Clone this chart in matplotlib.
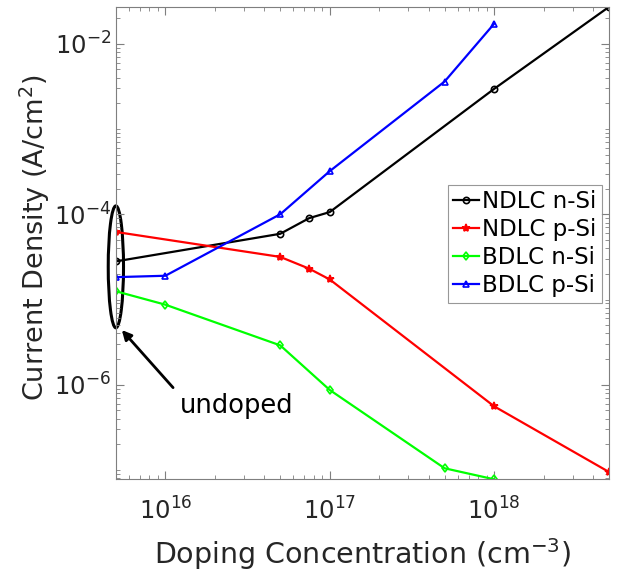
import matplotlib
matplotlib.use("Agg")
import matplotlib.pyplot as plt
from matplotlib.patches import Ellipse
from matplotlib.ticker import LogLocator, NullFormatter
import numpy as np

# doping concentration (cm^-3); the first point of each series is the undoped sample
ndlc_n_x = [5e15, 5e16, 7.5e16, 1e17, 1e18, 5e18]
ndlc_n_y = [2.8e-5, 5.9e-5, 9.0e-5, 1.06e-4, 2.95e-3, 2.7e-2]

ndlc_p_x = [5e15, 5e16, 7.5e16, 1e17, 1e18, 5e18]
ndlc_p_y = [6.2e-5, 3.16e-5, 2.3e-5, 1.72e-5, 5.6e-7, 9.5e-8]

bdlc_n_x = [5e15, 1e16, 5e16, 1e17, 5e17, 1e18]
bdlc_n_y = [1.25e-5, 8.7e-6, 2.9e-6, 8.7e-7, 1.05e-7, 7.8e-8]

bdlc_p_x = [5e15, 1e16, 5e16, 1e17, 5e17, 1e18]
bdlc_p_y = [1.83e-5, 1.9e-5, 1.0e-4, 3.2e-4, 3.6e-3, 1.71e-2]

series = [
    ("NDLC n-Si", ndlc_n_x, ndlc_n_y, "black", "o"),
    ("NDLC p-Si", ndlc_p_x, ndlc_p_y, "red", "*"),
    ("BDLC n-Si", bdlc_n_x, bdlc_n_y, "lime", "d"),
    ("BDLC p-Si", bdlc_p_x, bdlc_p_y, "blue", "^"),
]

plt.rcParams["font.family"] = ["DejaVu Sans"]
axis_gray = "#7f7f7f"
text_col = "#262626"

fig = plt.figure(figsize=(6.23, 5.74), dpi=100)
ax = fig.add_axes([0.186, 0.165, 0.7915, 0.823])

for label, xs, ys, color, marker in series:
    ax.plot(xs, ys, color=color, marker=marker,
            markersize=4.5 if marker != "*" else 6,
            markerfacecolor="none" if marker != "*" else color,
            markeredgewidth=1.2, linewidth=1.6, label=label)

ax.set_xscale("log")
ax.set_yscale("log")
ax.set_xlim(5e15, 5e18)
ax.set_ylim(7.8e-8, 2.7e-2)

ax.set_xticks([1e16, 1e17, 1e18])
ax.set_yticks([1e-6, 1e-4, 1e-2])
ax.xaxis.set_minor_locator(LogLocator(base=10, subs=np.arange(2, 10), numticks=20))
ax.yaxis.set_minor_locator(LogLocator(base=10, subs=np.arange(1, 10), numticks=20))
ax.xaxis.set_minor_formatter(NullFormatter())
ax.yaxis.set_minor_formatter(NullFormatter())

ax.tick_params(which="both", direction="in", top=True, right=True,
               color=axis_gray, labelsize=17.5, labelcolor=text_col)
ax.tick_params(which="major", length=6, width=0.8)
ax.tick_params(which="minor", length=3, width=0.6)
ax.tick_params(axis="x", which="major", pad=13)
for sp in ax.spines.values():
    sp.set_color(axis_gray)
    sp.set_linewidth(0.8)

ax.set_xlabel("Doping Concentration (cm$^{-3}$)", fontsize=20.5, color=text_col, labelpad=8)
ax.set_ylabel("Current Density (A/cm$^2$)", fontsize=19.5, color=text_col)
ax.yaxis.set_label_coords(-0.13, 0.51)

leg = ax.legend(loc="upper left", bbox_to_anchor=(0.673, 0.624), fontsize=16.5,
                frameon=True, fancybox=False, handlelength=1.1, handletextpad=0.15,
                borderpad=0.25, labelspacing=0.22, borderaxespad=0)
leg.get_frame().set_edgecolor(axis_gray)
leg.get_frame().set_linewidth(0.8)

# mark the undoped samples
ax.add_patch(Ellipse((0.0, 0.4497), width=0.031, height=0.258, transform=ax.transAxes,
                     fill=False, edgecolor="black", linewidth=2.2, clip_on=False))
ax.annotate("", xy=(0.012, 0.316), xytext=(0.116, 0.194),
            xycoords="axes fraction", textcoords="axes fraction",
            arrowprops=dict(arrowstyle="-|>", color="black", lw=2,
                            shrinkA=0, shrinkB=0, mutation_scale=14))
ax.text(0.245, 0.155, "undoped", transform=ax.transAxes, fontsize=18.5,
        ha="center", va="center", color="black")

fig.savefig("out.png", dpi=100)
